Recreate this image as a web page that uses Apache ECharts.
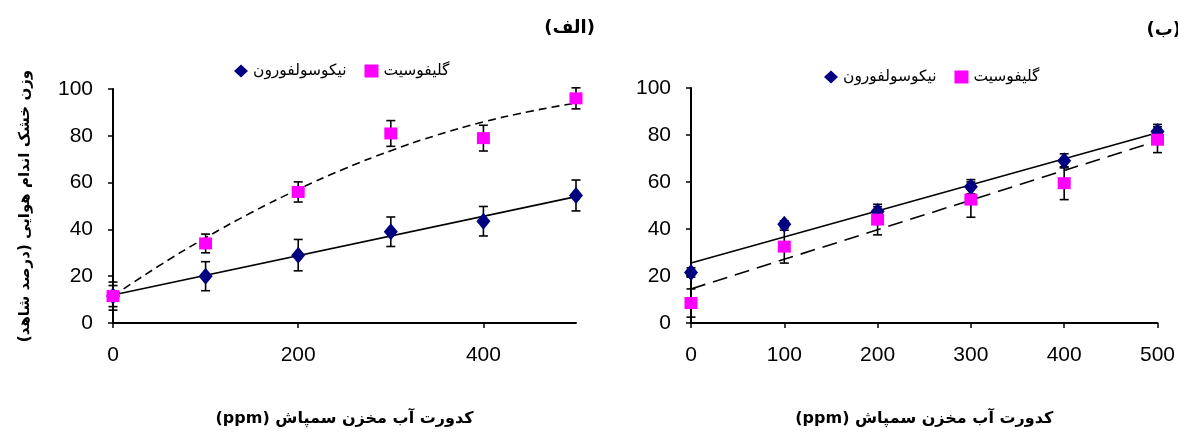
<!DOCTYPE html>
<html>
<head>
<meta charset="utf-8">
<script src="https://cdn.jsdelivr.net/npm/echarts@6/dist/echarts.min.js"></script>
<style>
html, body { margin: 0; padding: 0; background: #fff; }
#chart { width: 1178px; height: 432px; }
</style>
</head>
<body>
<div id="chart"></div>
<script>
//*************** data ***************
var doses = [0, 100, 200, 300, 400, 500];

// (الف)
var nicoA = [11.5, 20, 29, 39, 43.5, 54.5];
var nicoAErr = [6, 6.2, 6.7, 6.3, 6.3, 6.6];
var glyA = [11.5, 34, 56, 81, 79, 96];
var glyAErr = [4.5, 4, 4.3, 5.5, 5.5, 4.5];
var nicoATrendX = [0, 500];
var nicoATrend = [12, 54];
var glyATrendX = [0, 50, 100, 150, 200, 250, 300, 350, 400, 450, 500];
var glyATrend = [11.5, 24.5, 36.4, 47.3, 57.1, 65.9, 73.6, 80.3, 85.9, 90.4, 94];

// (ب)
var nicoB = [21.5, 42, 47.5, 58, 69, 81.5];
var nicoBErr = [2, 1.5, 2, 3, 3, 3];
var glyB = [8.5, 32.5, 44, 52.5, 59.5, 78];
var glyBErr = [6, 7, 6.5, 7.5, 7, 5.5];
var nicoBTrendX = [0, 500];
var nicoBTrend = [25.5, 81];
var glyBTrendX = [0, 500];
var glyBTrend = [14.5, 77.5];

var nicoName = 'نیکوسولفورون';
var glyName = 'گلیفوسیت';
var yTitle = 'وزن خشک اندام هوایی (درصد شاهد)\u200F';
var xTitle = '(ppm) کدورت آب مخزن سمپاش';

//*************** helpers ***************
function pairs(xs, ys) {
    return xs.map(function (x, i) { return [x, ys[i]]; });
}

function errorSeries(idx, ys, es) {
    return {
        type: 'custom',
        xAxisIndex: idx,
        yAxisIndex: idx,
        silent: true,
        z: 2,
        data: doses.map(function (x, i) { return [x, ys[i] - es[i], ys[i] + es[i]]; }),
        encode: {x: 0, y: [1, 2]},
        renderItem: function (params, api) {
            var x = api.value(0);
            var lo = api.coord([x, api.value(1)]);
            var hi = api.coord([x, api.value(2)]);
            var w = 4.5;
            var st = {stroke: '#000', lineWidth: 1.6};
            return {
                type: 'group',
                children: [
                    {type: 'line', shape: {x1: lo[0], y1: lo[1], x2: hi[0], y2: hi[1]}, style: st},
                    {type: 'line', shape: {x1: lo[0] - w, y1: lo[1], x2: lo[0] + w, y2: lo[1]}, style: st},
                    {type: 'line', shape: {x1: hi[0] - w, y1: hi[1], x2: hi[0] + w, y2: hi[1]}, style: st}
                ]
            };
        }
    };
}

function trendSeries(idx, xs, ys, dash) {
    return {
        type: 'line',
        xAxisIndex: idx,
        yAxisIndex: idx,
        data: pairs(xs, ys),
        smooth: xs.length > 2,
        showSymbol: false,
        silent: true,
        z: 3,
        lineStyle: {color: '#000', width: 1.6, type: dash}
    };
}

function markSeries(idx, name, ys, symbol, size, color) {
    return {
        type: 'scatter',
        name: name,
        xAxisIndex: idx,
        yAxisIndex: idx,
        data: pairs(doses, ys),
        symbol: symbol,
        symbolSize: size,
        itemStyle: {color: color, opacity: 1},
        z: 4
    };
}

var axisLineStyle = {show: true, lineStyle: {color: '#000', width: 2}};
var axisTickStyle = {show: true, length: 5, lineStyle: {color: '#000', width: 1.5}};
var numLabel = {color: '#000', fontSize: 21, fontFamily: 'Liberation Sans, Arial, sans-serif'};
var titleFont = {color: '#000', fontSize: 16, fontWeight: 'bold', fontFamily: 'DejaVu Sans, sans-serif'};

function xAxisOf(idx, ticks) {
    return {
        type: 'value',
        gridIndex: idx,
        min: 0,
        max: 500,
        interval: ticks[1] - ticks[0],
        axisLine: axisLineStyle,
        axisTick: Object.assign({customValues: ticks}, axisTickStyle),
        axisLabel: Object.assign({customValues: ticks, margin: 22}, numLabel),
        splitLine: {show: false},
        name: xTitle,
        nameLocation: 'middle',
        nameGap: 88,
        nameTextStyle: titleFont
    };
}

function yAxisOf(idx, withName) {
    var ax = {
        type: 'value',
        gridIndex: idx,
        min: 0,
        max: 100,
        interval: 20,
        axisLine: axisLineStyle,
        axisTick: axisTickStyle,
        axisLabel: Object.assign({margin: 20}, numLabel),
        splitLine: {show: false}
    };
    if (withName) {
        ax.name = yTitle;
        ax.nameLocation = 'middle';
        ax.nameRotate = 90;
        ax.nameGap = 80;
        ax.nameTextStyle = {color: '#000', fontSize: 15, fontWeight: 'bold', fontFamily: 'DejaVu Sans, sans-serif'};
    }
    return ax;
}

var legendText = {color: '#000', fontSize: 15.5, fontFamily: 'DejaVu Sans, sans-serif'};
var legendData = [
    {name: nicoName, icon: 'diamond'},
    {name: glyName, icon: 'rect'}
];

//*************** chart ***************
var chart_dom = document.getElementById('chart');
var chart = echarts.init(chart_dom, null, {renderer: 'canvas'});

chart.setOption({
    animation: false,
    backgroundColor: '#fff',
    grid: [
        {left: 113, top: 89, width: 463, height: 236},
        {left: 691, top: 88, width: 473, height: 235}
    ],
    legend: [
        {data: legendData, left: 229, top: 58, itemWidth: 14, itemHeight: 13, itemGap: 18, textStyle: legendText, selectedMode: false},
        {data: legendData, left: 819, top: 64, itemWidth: 14, itemHeight: 13, itemGap: 18, textStyle: legendText, selectedMode: false}
    ],
    graphic: [
        {type: 'text', x: 595, y: 19, style: {text: '(الف)', align: 'right', fill: '#000', font: 'bold 18px "DejaVu Sans", sans-serif'}},
        {type: 'text', x: 1181, y: 21, style: {text: '(ب)', align: 'right', fill: '#000', font: 'bold 18px "DejaVu Sans", sans-serif'}}
    ],
    xAxis: [
        xAxisOf(0, [0, 200, 400]),
        xAxisOf(1, [0, 100, 200, 300, 400, 500])
    ],
    yAxis: [
        yAxisOf(0, true),
        yAxisOf(1, false)
    ],
    series: [
        errorSeries(0, nicoA, nicoAErr),
        errorSeries(0, glyA, glyAErr),
        trendSeries(0, nicoATrendX, nicoATrend, 'solid'),
        trendSeries(0, glyATrendX, glyATrend, [8, 5]),
        markSeries(0, nicoName, nicoA, 'diamond', [14, 17], '#000080'),
        markSeries(0, glyName, glyA, 'rect', [13, 12], '#ff00ff'),

        errorSeries(1, nicoB, nicoBErr),
        errorSeries(1, glyB, glyBErr),
        trendSeries(1, nicoBTrendX, nicoBTrend, 'solid'),
        trendSeries(1, glyBTrendX, glyBTrend, [15, 8]),
        markSeries(1, nicoName, nicoB, 'diamond', [14, 17], '#000080'),
        markSeries(1, glyName, glyB, 'rect', [13, 12], '#ff00ff')
    ]
});
</script>
</body>
</html>
